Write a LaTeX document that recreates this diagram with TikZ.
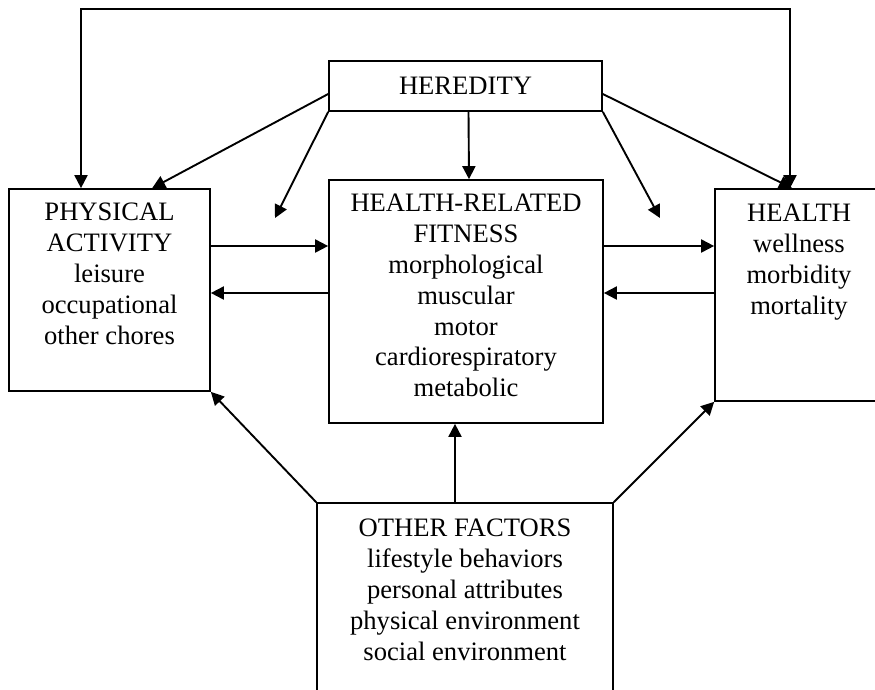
\documentclass[tikz,border=0pt]{standalone}
\usepackage{fontspec}
\setmainfont{Liberation Serif}
\usetikzlibrary{arrows.meta,positioning}
\newcommand\boxfont{\fontsize{26.6}{30.8}\selectfont}

\begin{document}
\begin{tikzpicture}[x=1pt,y=-1pt,>={Triangle[length=13pt,width=13pt]},
    box/.style={draw,line width=1.7pt,inner sep=0pt},
    txt/.style={align=center,inner sep=0pt,font=\boxfont},
    arr/.style={line width=1.9pt,->}]
  \useasboundingbox (0,0) rectangle (875,689);
  \clip (0,0) rectangle (875,689);
  \node[box,minimum width=273pt,minimum height=50pt,font=\boxfont] (her) at (465.5,86) {HEREDITY};
  \node[box,minimum width=201pt,minimum height=202pt] (pa) at (109.5,290) {};
  \node[box,minimum width=274pt,minimum height=243pt] (fit) at (466,301.5) {};
  \node[box,minimum width=168pt,minimum height=212pt] (health) at (799,295) {};
  \node[box,minimum width=296pt,minimum height=240pt] (of) at (465,623) {};
  \node[txt,below=15pt of pa.north] (patxt) {PHYSICAL\\ACTIVITY\\leisure\\occupational\\other chores};
  \node[txt,below=15pt of fit.north] (fittxt) {HEALTH-RELATED\\FITNESS\\morphological\\muscular\\motor\\cardiorespiratory\\metabolic};
  \node[txt,below=16pt of health.north] (healthtxt) {HEALTH\\wellness\\morbidity\\mortality};
  \node[txt,below=17pt of of.north] (oftxt) {OTHER FACTORS\\lifestyle behaviors\\personal attributes\\physical environment\\social environment};
  \coordinate (loopL) at (81,9);
  \coordinate (loopR) at (790,9);
  \coordinate (modL) at (275,218);
  \coordinate (modR) at (660,218);
  \coordinate (upper) at (0,246);
  \coordinate (lower) at (0,293);
  \draw[arr,<->] (pa.north -| loopL) -- (loopL) -- (loopR) -- (health.north -| loopR);
  \draw[arr] ([yshift=-8pt]her.west) -- ([xshift=144pt]pa.north west);
  \draw[arr] (her.south west) -- (modL);
  \draw[arr] ([xshift=3pt]her.south) -- ([xshift=3pt]fit.north);
  \draw[arr] ([yshift=-8pt]her.east) -- ([xshift=-7pt]health.north);
  \draw[arr] (her.south east) -- (modR);
  \draw[arr] (pa.east |- upper) -- (fit.west |- upper);
  \draw[arr] (fit.west |- lower) -- (pa.east |- lower);
  \draw[arr] (fit.east |- upper) -- (health.west |- upper);
  \draw[arr] (health.west |- lower) -- (fit.east |- lower);
  \draw[arr] (of.north west) -- (pa.south east);
  \draw[arr] ([xshift=-10pt]of.north) -- ([xshift=-11pt]fit.south);
  \draw[arr] (of.north east) -- (health.south west);
\end{tikzpicture}
\end{document}
